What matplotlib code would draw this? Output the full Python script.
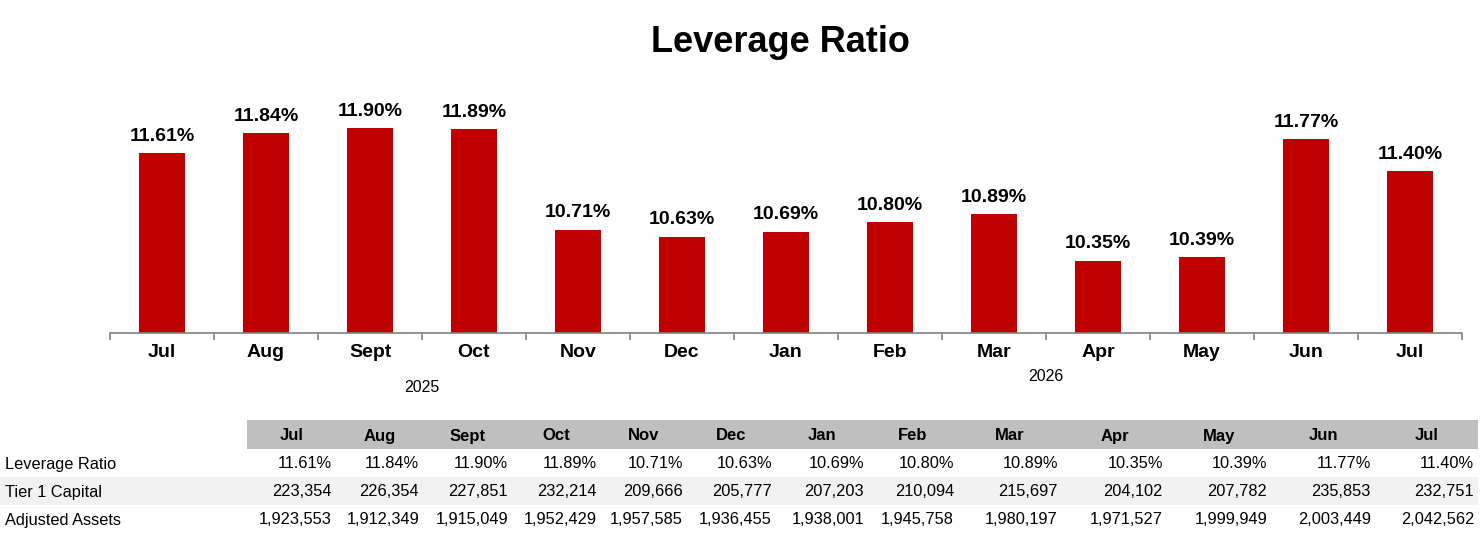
import numpy as np
import matplotlib.pyplot as plt
from matplotlib.patches import Rectangle

plt.rcParams['font.family'] = ['Liberation Sans', 'DejaVu Sans']

# data
months = ['Jul', 'Aug', 'Sept', 'Oct', 'Nov', 'Dec', 'Jan', 'Feb', 'Mar', 'Apr', 'May', 'Jun', 'Jul']
leverage = [11.61, 11.84, 11.90, 11.89, 10.71, 10.63, 10.69, 10.80, 10.89, 10.35, 10.39, 11.77, 11.40]
tier1 = [223354, 226354, 227851, 232214, 209666, 205777, 207203, 210094, 215697, 204102, 207782, 235853, 232751]
adj_assets = [1923553, 1912349, 1915049, 1952429, 1957585, 1936455, 1938001, 1945758, 1980197, 1971527,
              1999949, 2003449, 2042562]
years = ['2025', '2026']
year_pos = [2.5, 8.5]

W, H = 1480, 534
fig = plt.figure(figsize=(W / 100, H / 100), dpi=100)

# bar chart
ax = fig.add_axes([110 / W, (H - 333) / H, 1352 / W, 243 / H])
x = np.arange(len(months))
ax.bar(x, leverage, width=0.45, color='#c00000', zorder=2)
ax.set_ylim(9.5, 12.35)
ax.set_xlim(-0.5, len(months) - 0.5)
for xi, v in zip(x, leverage):
    ax.annotate('%.2f%%' % v, (xi, v), xytext=(0, 6), textcoords='offset points',
                ha='center', va='bottom', fontsize=14, fontweight='bold')

for s in ['top', 'right', 'left']:
    ax.spines[s].set_visible(False)
ax.spines['bottom'].set_color('#808080')
ax.spines['bottom'].set_linewidth(1.2)
ax.set_yticks([])
ax.set_xticks(x)
ax.set_xticklabels(months, fontsize=14, fontweight='bold')
ax.tick_params(axis='x', which='major', length=0, pad=8)
ax.set_xticks(np.arange(len(months) + 1) - 0.5, minor=True)
ax.tick_params(axis='x', which='minor', length=5, color='#808080', width=1.2)

for xp, yr, dy in zip(year_pos, years, [-0.225, -0.18]):
    ax.text(xp, dy, yr, transform=ax.get_xaxis_transform(), ha='center', va='center', fontsize=11.5)

fig.text(780 / W, 1 - 42 / H, 'Leverage Ratio', ha='center', va='center', fontsize=26, fontweight='bold')

# table below, in pixel coordinates
tx = fig.add_axes([0, 0, 1, 1])
tx.set_xlim(0, W)
tx.set_ylim(H, 0)
tx.axis('off')
tx.patch.set_alpha(0)

edges = [247, 336, 423, 512, 601, 687, 776, 868, 958, 1062, 1167, 1271, 1375, 1478]
tx.add_patch(Rectangle((edges[0], 420), edges[-1] - edges[0], 29, color='#bfbfbf', lw=0))
tx.add_patch(Rectangle((0, 477), edges[-1], 28, color='#f2f2f2', lw=0))

row_names = ['Leverage Ratio', 'Tier 1 Capital', 'Adjusted Assets']
rows = [['%.2f%%' % v for v in leverage],
        ['{:,}'.format(v) for v in tier1],
        ['{:,}'.format(v) for v in adj_assets]]
row_y = [464, 492, 520]

for i, m in enumerate(months):
    tx.text((edges[i] + edges[i + 1]) / 2, 436, m, ha='center', va='center',
            fontsize=12, fontweight='bold')
for name, vals, yy in zip(row_names, rows, row_y):
    tx.text(5, yy, name, ha='left', va='center', fontsize=11.8)
    for i, v in enumerate(vals):
        tx.text(edges[i + 1] - 4, yy, v, ha='right', va='center', fontsize=11.8)

fig.savefig('out.png', dpi=100)
